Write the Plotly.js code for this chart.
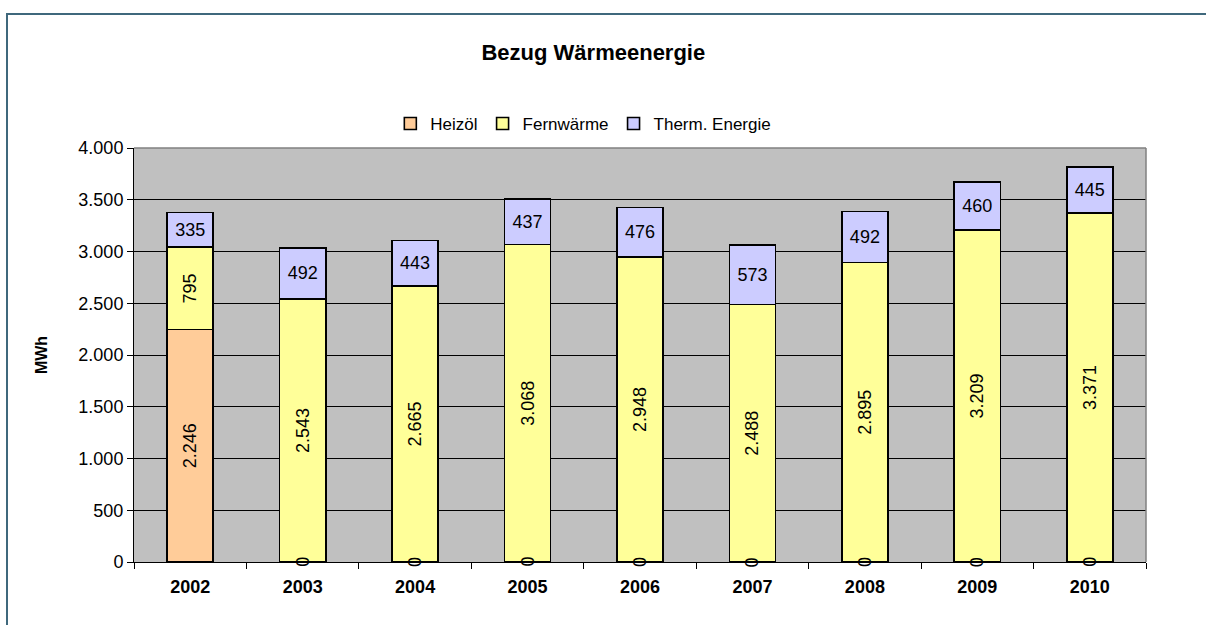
<!DOCTYPE html>
<html>
<head>
<meta charset="utf-8">
<script src="https://cdn.plot.ly/plotly-3.0.1.min.js"></script>
<style>
  html, body { margin: 0; padding: 0; background: #ffffff; overflow: hidden; }
  #chart { position: absolute; left: 0; top: 0; width: 1206px; height: 625px; }
  #frame { position: absolute; left: 6px; top: 13px; width: 1300px; height: 700px;
           border-left: 2px solid #3f687c; border-top: 2px solid #3f687c;
           pointer-events: none; z-index: 5; }
</style>
</head>
<body>
<div id="chart"></div>
<div id="frame"></div>
<script>
// ---- data ----
const years = ["2002", "2003", "2004", "2005", "2006", "2007", "2008", "2009", "2010"];
const heizoel = [2246, 0, 0, 0, 0, 0, 0, 0, 0];
const fernwaerme = [795, 2543, 2665, 3068, 2948, 2488, 2895, 3209, 3371];
const thermEnergie = [335, 492, 443, 437, 476, 573, 492, 460, 445];
const seriesNames = ["Heizöl", "Fernwärme", "Therm. Energie"];
const yTicks = [0, 500, 1000, 1500, 2000, 2500, 3000, 3500, 4000];

// German number formatting
function fmt(v) {
  return String(Math.round(v)).replace(/\B(?=(\d{3})+(?!\d))/g, ".");
}

const FONT = "Liberation Sans, Arial, sans-serif";
const lbl = { family: FONT, size: 18, color: "#000000" };

const barCommon = {
  type: "bar",
  x: years,
  textposition: "inside",
  insidetextanchor: "middle",
  constraintext: "none",
  insidetextfont: lbl,
  hoverinfo: "skip",
  cliponaxis: false
};

const traces = [
  Object.assign({}, barCommon, {
    name: seriesNames[0],
    y: heizoel,
    text: heizoel.map(v => v ? fmt(v) : ""),
    textangle: -90,
    marker: { color: "#ffcc99", line: { color: "#000000", width: 1.6 } }
  }),
  Object.assign({}, barCommon, {
    name: seriesNames[1],
    y: fernwaerme,
    text: fernwaerme.map(fmt),
    textangle: -90,
    marker: { color: "#ffff99", line: { color: "#000000", width: 1.6 } }
  }),
  Object.assign({}, barCommon, {
    name: seriesNames[2],
    y: thermEnergie,
    text: thermEnergie.map(fmt),
    textangle: 0,
    marker: { color: "#ccccff", line: { color: "#000000", width: 1.6 } }
  })
];

// zero labels for Heizöl at the base of the bars (x given as category index)
const zeroAnnotations = years.map((yr, i) => heizoel[i] === 0 ? {
  x: i, y: 0, xref: "x", yref: "y",
  text: "0", textangle: -90, showarrow: false,
  font: lbl, xanchor: "center", yanchor: "middle"
} : null).filter(a => a);

const layout = {
  width: 1206,
  height: 625,
  paper_bgcolor: "rgba(0,0,0,0)",
  plot_bgcolor: "#c0c0c0",
  separators: ",.",
  barmode: "stack",
  bargap: 0.59,
  margin: { l: 134, r: 60, t: 148, b: 63, pad: 0 },
  font: { family: FONT, size: 18, color: "#000000" },
  title: {
    text: "Bezug Wärmeenergie",
    font: { family: FONT, size: 22, weight: "bold", color: "#000000" },
    x: 0.492, xref: "container", xanchor: "center",
    y: 0.917, yref: "container", yanchor: "middle"
  },
  showlegend: true,
  legend: {
    orientation: "h",
    x: 0.444, xanchor: "center",
    y: 1.058, yanchor: "middle",
    font: { family: FONT, size: 17, color: "#000000" },
    itemwidth: 30,
    tracegroupgap: 0,
    bgcolor: "rgba(0,0,0,0)",
    traceorder: "normal"
  },
  xaxis: {
    type: "category",
    range: [-0.5, years.length - 0.5],
    autorange: false,
    showgrid: false,
    showline: true, linecolor: "#000000", linewidth: 1,
    ticks: "outside", tickson: "boundaries", ticklen: 6, tickcolor: "#000000", tickwidth: 1,
    tickangle: 0,
    tickfont: { family: FONT, size: 18, weight: "bold", color: "#000000" },
    ticklabelstandoff: 8,
    fixedrange: true
  },
  yaxis: {
    range: [0, 4000],
    autorange: false,
    tickvals: yTicks,
    ticktext: yTicks.map(fmt),
    showgrid: true, gridcolor: "#000000", gridwidth: 1,
    zeroline: false,
    showline: true, linecolor: "#000000", linewidth: 1,
    ticks: "outside", ticklen: 6, tickcolor: "#000000", tickwidth: 1,
    tickfont: { family: FONT, size: 18, color: "#000000" },
    title: {
      text: "MWh",
      font: { family: FONT, size: 16, weight: "bold", color: "#000000" },
      standoff: 26
    },
    fixedrange: true
  },
  annotations: zeroAnnotations,
  shapes: [
    { type: "line", xref: "paper", yref: "paper", x0: 0, x1: 1, y0: 1, y1: 1,
      line: { color: "#808080", width: 1.5 }, layer: "above" },
    { type: "line", xref: "paper", yref: "paper", x0: 1, x1: 1, y0: 0, y1: 1,
      line: { color: "#808080", width: 1.5 }, layer: "above" }
  ]
};

Plotly.newPlot("chart", traces, layout, { displayModeBar: false, staticPlot: true });
</script>
</body>
</html>
